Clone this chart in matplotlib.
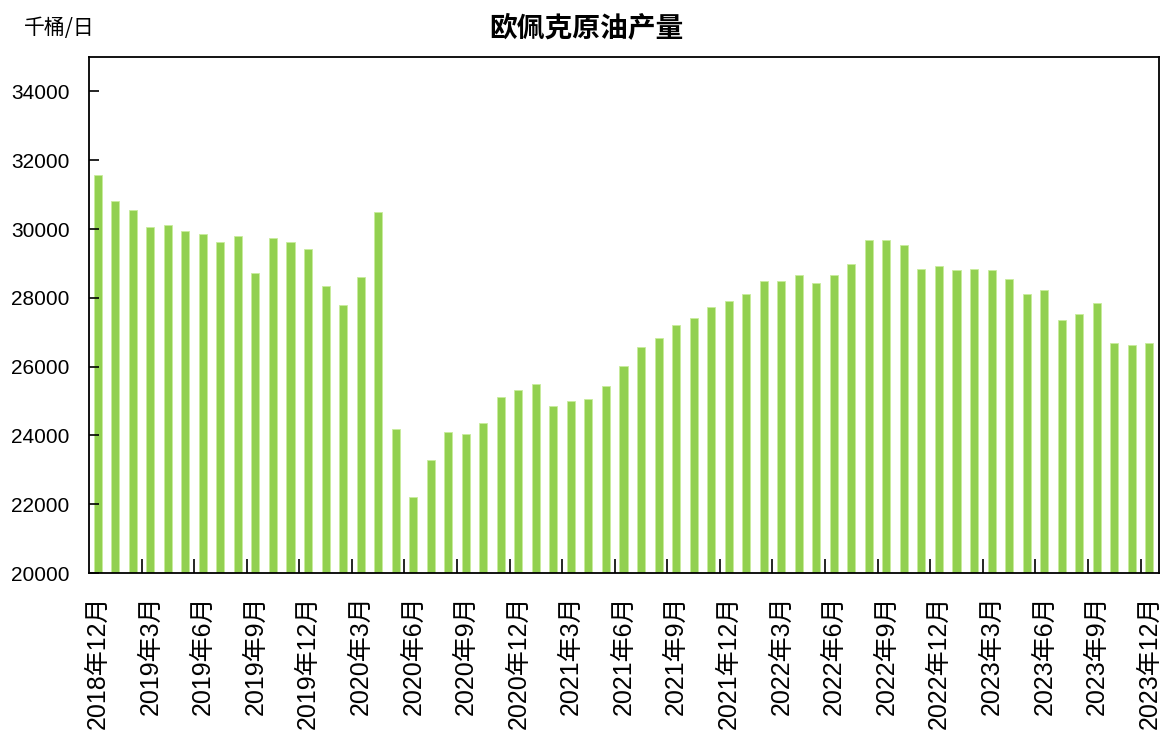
import matplotlib
matplotlib.use("Agg")
import matplotlib.pyplot as plt
import numpy as np

# 欧佩克原油产量, 千桶/日, 2018年12月 - 2023年12月
output = [31570, 30820, 30565, 30050, 30120, 29940, 29870, 29620, 29800, 28730,
          29735, 29620, 29425, 28350, 27780, 28600, 30500, 24180, 22210, 23300,
          24110, 24050, 24370, 25120, 25320, 25500, 24860, 25000, 25060, 25430,
          26010, 26580, 26830, 27210, 27400, 27720, 27910, 28100, 28480, 28480,
          28670, 28420, 28670, 28980, 29680, 29680, 29550, 28850, 28920, 28800,
          28850, 28800, 28550, 28100, 28230, 27350, 27530, 27850, 26700, 26640,
          26700]

tick_labels = ["2018年12月", "2019年3月", "2019年6月", "2019年9月", "2019年12月",
               "2020年3月", "2020年6月", "2020年9月", "2020年12月",
               "2021年3月", "2021年6月", "2021年9月", "2021年12月",
               "2022年3月", "2022年6月", "2022年9月", "2022年12月",
               "2023年3月", "2023年6月", "2023年9月", "2023年12月"]

y_ticks = [20000, 22000, 24000, 26000, 28000, 30000, 32000, 34000]

plt.rcParams["font.family"] = ["Liberation Sans", "Noto Sans CJK SC"]

fig = plt.figure(figsize=(11.63, 7.51), dpi=100)
ax = fig.add_axes([0.0765, 0.237, 0.92, 0.687])

x = np.arange(len(output))
ax.bar(x, output, width=0.46, color="#92D050", edgecolor="#c8ec9c", linewidth=0.6)

ax.set_xlim(-0.5, 60.55)
ax.set_ylim(20000, 35000)

ax.set_yticks(y_ticks)
ax.set_yticklabels([str(v) for v in y_ticks], fontsize=15)
ax.tick_params(axis="y", direction="in", length=7, width=1.2, pad=14, colors="black")

ax.set_xticks(x[::3])
ax.set_xticklabels(tick_labels, rotation=90, fontsize=18, va="top", ha="center")
ax.tick_params(axis="x", which="major", length=0, pad=16)
ax.set_xticks(np.arange(2.5, 60, 3), minor=True)
ax.tick_params(axis="x", which="minor", direction="in", length=10, width=1.2)

for s in ax.spines.values():
    s.set_linewidth(1.3)
    s.set_color("black")

fig.text(0.504, 0.963, "欧佩克原油产量", ha="center", va="center",
         fontsize=20, fontweight="bold", family=["Noto Sans CJK SC", "DejaVu Sans"])
fig.text(0.021, 0.963, "千桶/日", ha="left", va="center",
         fontsize=15, family=["Noto Sans CJK SC", "DejaVu Sans"])

fig.savefig("out.png", dpi=100, facecolor="white")
